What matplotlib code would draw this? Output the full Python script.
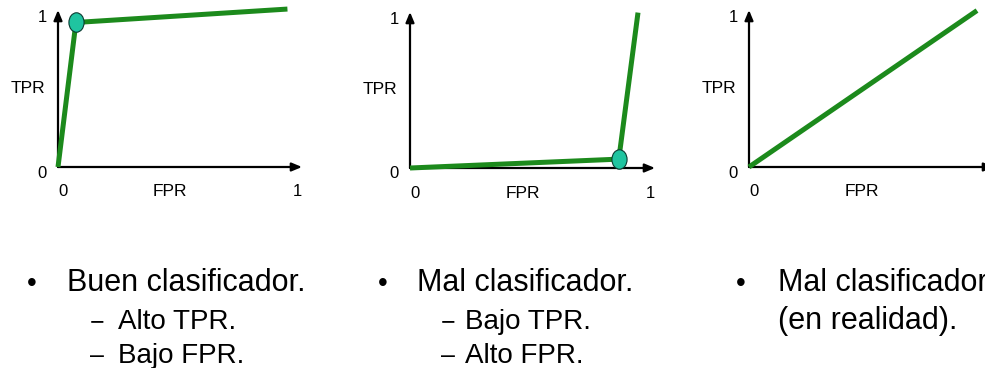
import matplotlib
matplotlib.use('Agg')
import matplotlib.pyplot as plt
from matplotlib.markers import MarkerStyle
from matplotlib.transforms import Affine2D

# ROC curves of the three example classifiers (FPR, TPR)
buen_fpr = [0, 0.075, 0.96]
buen_tpr = [0, 0.97, 1.06]
mal_fpr = [0, 0.87, 0.95]
mal_tpr = [0, 0.06, 1.05]
azar_fpr = [0, 0.95]
azar_tpr = [0, 1.05]

tick_labels = ['0', '1']
titulos = ['Buen clasificador.', 'Mal clasificador.', 'Mal clasificador']
subtextos = [['Alto TPR.', 'Bajo FPR.'], ['Bajo TPR.', 'Alto FPR.'], ['(en realidad).']]

W, H = 985, 368
plt.rcParams['font.family'] = ['Liberation Sans', 'DejaVu Sans']

fig = plt.figure(figsize=(W / 100, H / 100), dpi=100)
fig.patch.set_facecolor('white')

def fx(x):
    return x / W

def fy(y):
    return 1 - y / H

LINE = '#1c8a1c'
MARK = '#1fc4a0'
ovalo = MarkerStyle('o', transform=Affine2D().scale(0.78, 1.0))

# panel origin (px), x=1 pixel, y=1 pixel
paneles = [((58, 167), 297, 18, buen_fpr, buen_tpr, 1),
           ((410, 168), 650, 20, mal_fpr, mal_tpr, 1),
           ((749, 167), 989, 18, azar_fpr, azar_tpr, None)]

for (ox, oy), x1, y1, xs, ys, mk in paneles:
    ax = fig.add_axes([fx(ox), fy(oy), (x1 - ox) / W, (oy - y1) / H])
    ax.set_xlim(0, 1)
    ax.set_ylim(0, 1)
    ax.axis('off')
    sx = x1 - ox
    sy = oy - y1
    # axis arrows
    ax.annotate('', xy=(0, 1 + 8 / sy), xytext=(0, 0), xycoords='axes fraction',
                arrowprops=dict(arrowstyle='-|>,head_length=0.6,head_width=0.25', lw=1.6, color='black',
                                shrinkA=0, shrinkB=0), annotation_clip=False)
    ax.annotate('', xy=(1 + 5 / sx, 0), xytext=(0, 0), xycoords='axes fraction',
                arrowprops=dict(arrowstyle='-|>,head_length=0.6,head_width=0.25', lw=1.6, color='black',
                                shrinkA=0, shrinkB=0), annotation_clip=False)
    ax.plot(xs, ys, color=LINE, lw=3.6, clip_on=False, solid_capstyle='butt', zorder=3)
    if mk is not None:
        ax.plot(xs[mk], ys[mk], marker=ovalo, ms=14, mfc=MARK, mec='#0a3a30', mew=0.8,
                clip_on=False, zorder=4, ls='none')
    # tick labels
    ax.text(-16 / sx, 1, tick_labels[1], ha='center', va='center', fontsize=12)
    ax.text(-16 / sx, -6 / sy, tick_labels[0], ha='center', va='center', fontsize=12)
    ax.text(5 / sx, -25 / sy, tick_labels[0], ha='center', va='center', fontsize=12)
    ax.text(1, -25 / sy, tick_labels[1], ha='center', va='center', fontsize=12)
    ax.text(-30 / sx, 0.53, 'TPR', ha='center', va='center', fontsize=12.5)
    ax.text(0.47, -25 / sy, 'FPR', ha='center', va='center', fontsize=12.5)

# text below the panels
cols = [(32, 67, 97, 118), (383, 417, 448, 465), (741, 778, None, 778)]
for i, (bx, tx, dx, sx) in enumerate(cols):
    fig.text(fx(bx), fy(291), '•', ha='center', va='baseline', fontsize=20)
    fig.text(fx(tx), fy(291), titulos[i], ha='left', va='baseline', fontsize=22)
    for j, s in enumerate(subtextos[i]):
        base = [329, 363][j]
        if dx is not None:
            fig.text(fx(dx), fy(base), '–' if j else '−', ha='center', va='baseline', fontsize=18)
            fig.text(fx(sx), fy(base), s, ha='left', va='baseline', fontsize=20)
        else:
            fig.text(fx(sx), fy(base), s, ha='left', va='baseline', fontsize=22)

fig.savefig('out.png', dpi=100)
